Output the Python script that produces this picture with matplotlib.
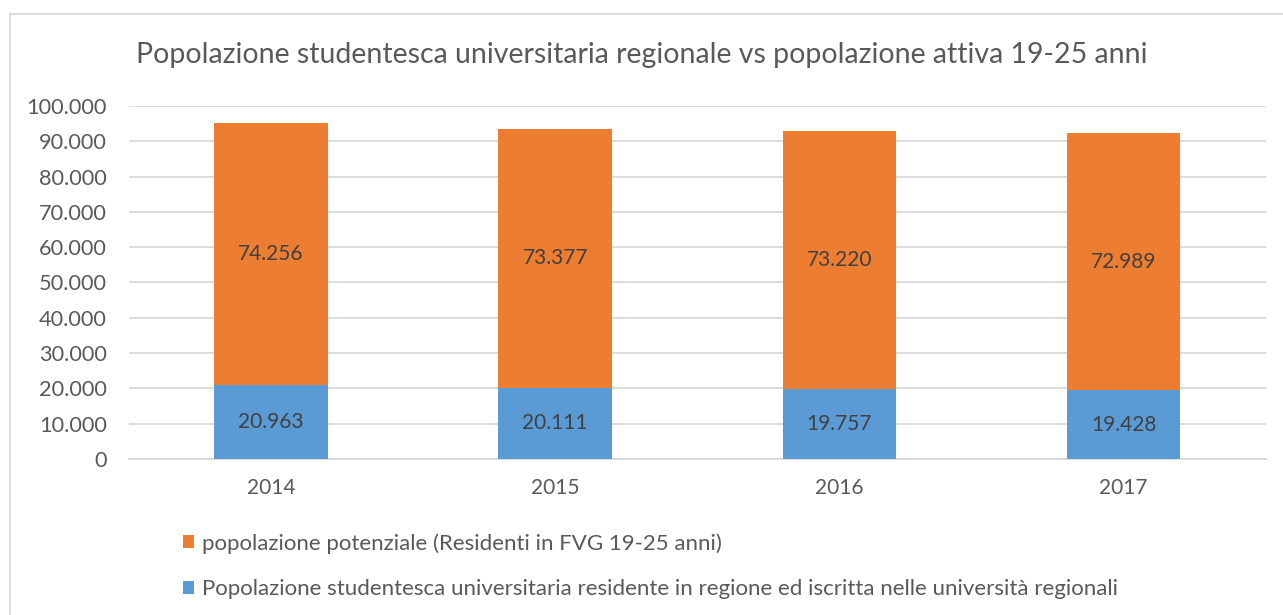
import matplotlib.pyplot as plt
import numpy as np
from matplotlib.patches import Rectangle
from matplotlib.ticker import FuncFormatter

plt.rcParams['font.family'] = ['Lato', 'DejaVu Sans']

# dati
anni = ['2014', '2015', '2016', '2017']
studenti = [20963, 20111, 19757, 19428]
potenziale = [74256, 73377, 73220, 72989]
lab_potenziale = 'popolazione potenziale (Residenti in FVG 19-25 anni)'
lab_studenti = ('Popolazione studentesca universitaria residente in regione '
                'ed iscritta nelle università regionali')
titolo = 'Popolazione studentesca universitaria regionale vs popolazione attiva 19-25 anni'

blu = '#5B9BD5'
arancio = '#ED7D31'
testo = '#595959'

fig = plt.figure(figsize=(12.83, 6.15), dpi=100)
ax = fig.add_axes([0.1005, 0.2537, 0.886, 0.574])

# cornice del grafico
fig.patches.append(Rectangle((10 / 1283, -0.05), 1.05, 1 - 14 / 615 + 0.05,
                             transform=fig.transFigure, fill=False,
                             edgecolor='#d9d9d9', linewidth=1.3))

x = np.arange(len(anni))
b1 = ax.bar(x, studenti, width=0.4, color=blu, label=lab_studenti, zorder=3)
b2 = ax.bar(x, potenziale, width=0.4, bottom=studenti, color=arancio,
            label=lab_potenziale, zorder=3)

fmt = lambda v: f'{int(v):,}'.replace(',', '.')
for rects, vals, base in [(b1, studenti, [0] * 4), (b2, potenziale, studenti)]:
    for r, v, b in zip(rects, vals, base):
        ax.text(r.get_x() + r.get_width() / 2, b + v / 2, fmt(v),
                ha='center', va='center', fontsize=15, color='#404040', zorder=4)

ax.set_xlim(-0.5, 3.5)
ax.set_ylim(0, 100000)
ax.set_yticks(np.arange(0, 100001, 10000))
ax.yaxis.set_major_formatter(FuncFormatter(lambda v, p: fmt(v)))
ax.set_xticks(x)
ax.set_xticklabels(anni)
ax.tick_params(axis='y', length=0, pad=16, labelsize=15.7, labelcolor=testo)
ax.tick_params(axis='x', length=0, pad=14, labelsize=15, labelcolor=testo)
ax.grid(axis='y', color='#d9d9d9', linewidth=1.3, zorder=0)
for s in ['top', 'right', 'left']:
    ax.spines[s].set_visible(False)
ax.spines['bottom'].set_color('#d9d9d9')
ax.spines['bottom'].set_linewidth(1.3)

fig.text(0.5, 1 - 55 / 615, titolo, ha='center', va='center',
         fontsize=20.5, color=testo)

leg = fig.legend(handles=[b2, b1], labels=[lab_potenziale, lab_studenti],
                 loc='upper left', bbox_to_anchor=(183 / 1283, 1 - 533 / 615),
                 ncol=1, frameon=False, fontsize=16, handlelength=0.5,
                 handleheight=0.5, handletextpad=0.35, labelspacing=1.15,
                 borderaxespad=0, borderpad=0)
for t in leg.get_texts():
    t.set_color(testo)

fig.savefig('out.png', dpi=100)
